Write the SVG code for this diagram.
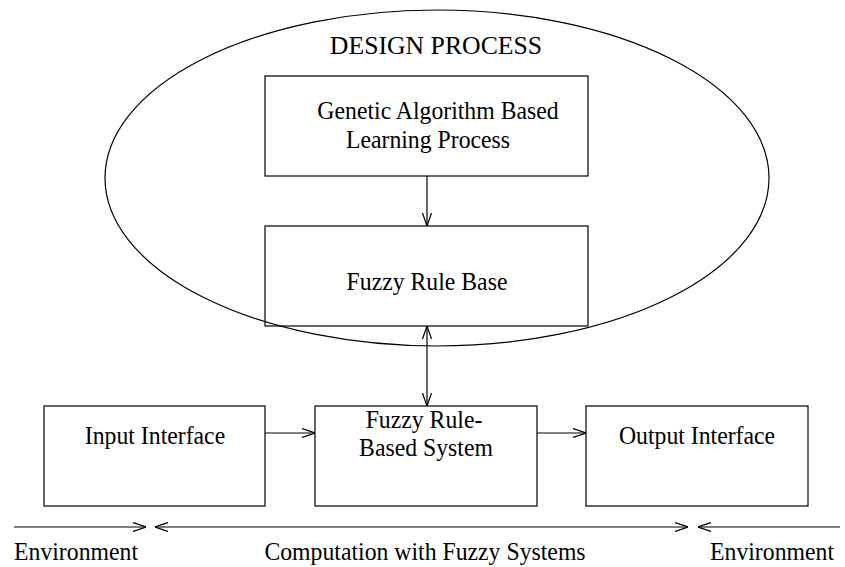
<svg xmlns="http://www.w3.org/2000/svg" width="845" height="567" viewBox="0 0 845 567">
<style>
text{font-family:"Liberation Serif","Times New Roman",serif;font-size:25px;fill:#000;text-anchor:middle}
.box{fill:none;stroke:#000;stroke-width:1.2}
.ln{fill:none;stroke:#000;stroke-width:1.2}
</style>
<defs>
<marker id="ah" viewBox="0 0 13 10" refX="13" refY="5" markerWidth="13" markerHeight="10" markerUnits="userSpaceOnUse" orient="auto-start-reverse">
<path d="M0,0.5 L13,5 L0,9.5" fill="none" stroke="#000" stroke-width="1.2"/>
</marker>
</defs>
<g id="design-process">
<ellipse cx="437" cy="178" rx="332" ry="168" class="box"/>
<text transform="translate(436,54) scale(1.03,1)">DESIGN PROCESS</text>
</g>
<g id="ga-learning">
<rect x="265" y="76" width="323" height="100" class="box"/>
<text transform="translate(438,119) scale(0.95,1)">Genetic Algorithm Based</text>
<text transform="translate(428,148) scale(0.95,1)">Learning Process</text>
</g>
<g id="fuzzy-rule-base">
<rect x="265" y="226" width="323" height="100" class="box"/>
<text transform="translate(427,290) scale(0.95,1)">Fuzzy Rule Base</text>
</g>
<g id="input-interface">
<rect x="44" y="406" width="221" height="100" class="box"/>
<text transform="translate(155,444) scale(0.95,1)">Input Interface</text>
</g>
<g id="frbs">
<rect x="315" y="406" width="222" height="100" class="box"/>
<text transform="translate(424,428) scale(0.95,1)">Fuzzy Rule-</text>
<text transform="translate(426,456) scale(0.95,1)">Based System</text>
</g>
<g id="output-interface">
<rect x="586" y="406" width="222" height="100" class="box"/>
<text transform="translate(697,444) scale(0.95,1)">Output Interface</text>
</g>
<g id="connectors">
<line x1="427" y1="176" x2="427" y2="226" class="ln" marker-end="url(#ah)"/>
<line x1="427" y1="326" x2="427" y2="406" class="ln" marker-start="url(#ah)" marker-end="url(#ah)"/>
<line x1="265" y1="433" x2="315" y2="433" class="ln" marker-end="url(#ah)"/>
<line x1="537" y1="433" x2="586" y2="433" class="ln" marker-end="url(#ah)"/>
<line x1="14" y1="527" x2="146" y2="527" class="ln" marker-end="url(#ah)"/>
<line x1="155" y1="527" x2="688" y2="527" class="ln" marker-start="url(#ah)" marker-end="url(#ah)"/>
<line x1="698" y1="527" x2="840" y2="527" class="ln" marker-start="url(#ah)"/>
</g>
<g id="labels">
<text transform="translate(76,560) scale(0.95,1)">Environment</text>
<text transform="translate(425,560) scale(0.95,1)">Computation with Fuzzy Systems</text>
<text transform="translate(772,560) scale(0.95,1)">Environment</text>
</g>
</svg>
